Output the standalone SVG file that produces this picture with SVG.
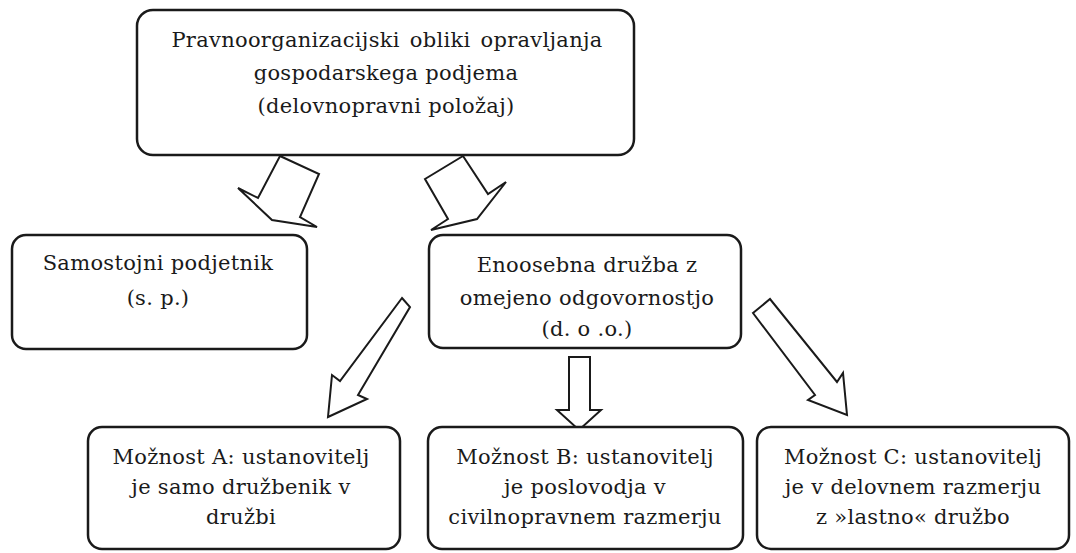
<svg xmlns="http://www.w3.org/2000/svg" width="1076" height="553" viewBox="0 0 1076 553">
<style>
.box{fill:#fff;stroke:#1a1a1a;stroke-width:2.5}
.arr{fill:#fff;stroke:#1a1a1a;stroke-width:2;stroke-linejoin:miter}
text{font-family:'DejaVu Serif','Liberation Serif',serif;font-size:21px;fill:#1a1a1a;text-anchor:middle;letter-spacing:0.3px}
</style>
<rect width="1076" height="553" fill="#fff"/>
<g id="connectors">
<polygon class="arr" points="280,156 319,174 300,217 317,227 272,220 238,188 258,198"/>
<polygon class="arr" points="463,156 488,194 506,182 477,219 431,230 448,219 425,179"/>
<polygon class="arr" points="402,298 410,307 358,395 367,399 328,417 332,375 340,381"/>
<polygon class="arr" points="569,357 590,357 590,410 601,410 579,430 557,410 569,410"/>
<polygon class="arr" points="753,313 770,299 837,382 843,373 847,415 808,400 815,395"/>
</g>
<g id="top">
<rect class="box" x="137" y="10" width="497" height="145" rx="16"/>
<text x="387" y="47" word-spacing="3">Pravnoorganizacijski obliki opravljanja</text>
<text x="386" y="80">gospodarskega podjema</text>
<text x="386" y="113">(delovnopravni položaj)</text>
</g>
<g id="sp">
<rect class="box" x="12" y="235" width="295" height="114" rx="14"/>
<text x="158" y="270">Samostojni podjetnik</text>
<text x="158" y="305">(s. p.)</text>
</g>
<g id="doo">
<rect class="box" x="429" y="235" width="312" height="113" rx="14"/>
<text x="587" y="272">Enoosebna družba z</text>
<text x="587" y="305">omejeno odgovornostjo</text>
<text x="587" y="336">(d. o .o.)</text>
</g>
<g id="a">
<rect class="box" x="88" y="427" width="312" height="122" rx="14"/>
<text x="241" y="464">Možnost A: ustanovitelj</text>
<text x="241" y="494">je samo družbenik v</text>
<text x="241" y="524">družbi</text>
</g>
<g id="b">
<rect class="box" x="428" y="427" width="315" height="122" rx="14"/>
<text x="585" y="464">Možnost B: ustanovitelj</text>
<text x="585" y="494">je poslovodja v</text>
<text x="585" y="524">civilnopravnem razmerju</text>
</g>
<g id="c">
<rect class="box" x="757" y="427" width="312" height="122" rx="14"/>
<text x="913" y="464">Možnost C: ustanovitelj</text>
<text x="913" y="494">je v delovnem razmerju</text>
<text x="913" y="524">z »lastno« družbo</text>
</g>
</svg>
